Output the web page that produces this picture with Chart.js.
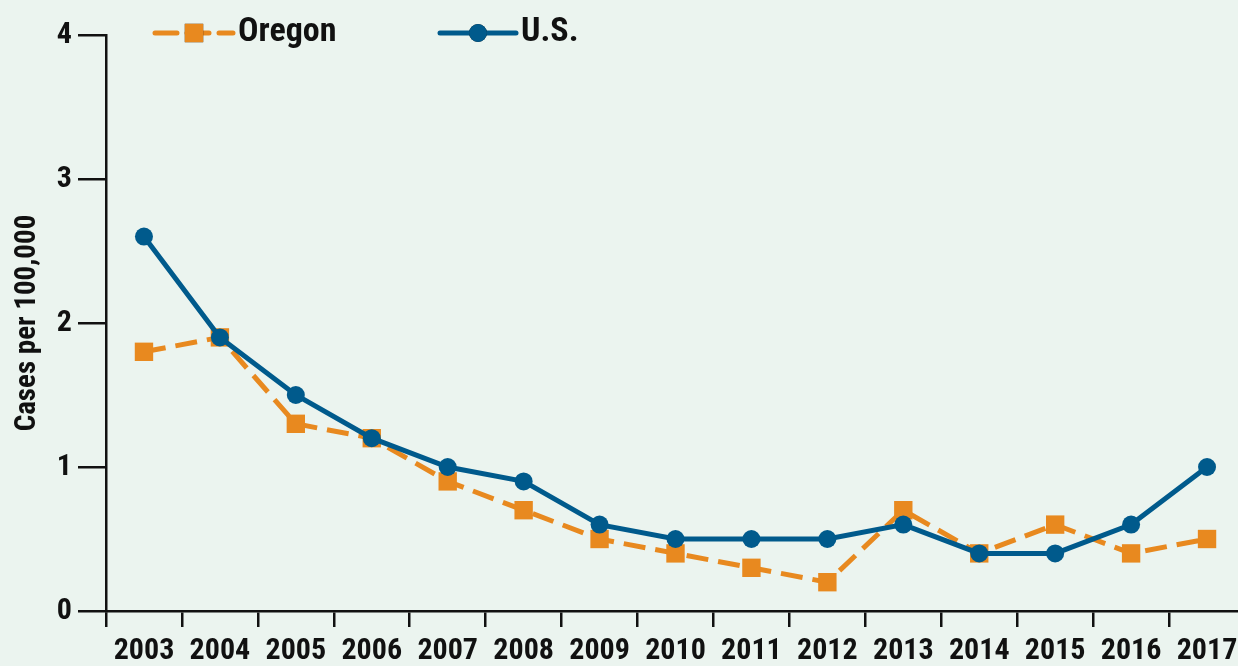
<!DOCTYPE html>
<html>
<head>
<meta charset="utf-8">
<script src="https://cdn.jsdelivr.net/npm/chart.js@4"></script>
<style>
  html, body { margin: 0; padding: 0; background: #EBF4EF; overflow: hidden; }
  #wrap { width: 1258px; height: 666px; }
</style>
</head>
<body>
<div id="wrap"><canvas id="myChart" width="1258" height="666"></canvas></div>
<script>
const years = ['2003','2004','2005','2006','2007','2008','2009','2010','2011','2012','2013','2014','2015','2016','2017']
const oregon = [1.8, 1.9, 1.3, 1.2, 0.9, 0.7, 0.5, 0.4, 0.3, 0.2, 0.7, 0.4, 0.6, 0.4, 0.5]
const us = [2.6, 1.9, 1.5, 1.2, 1.0, 0.9, 0.6, 0.5, 0.5, 0.5, 0.6, 0.4, 0.4, 0.6, 1.0]
const yTicks = [0, 1, 2, 3, 4]

const orange = '#E8891F'
const blue = '#005A8C'
const fontFamily = '"Liberation Sans Narrow", "Roboto Condensed", Arial, sans-serif'

// legend drawn by hand so it can sit inside the top of the plot
const topLegend = {
  id: 'topLegend',
  afterDraw(chart) {
    const ctx = chart.ctx
    const items = [
      { ds: chart.data.datasets[0], x1: 155, x2: 233, tx: 238 },
      { ds: chart.data.datasets[1], x1: 440, x2: 516, tx: 521 }
    ]
    const y = 33
    ctx.save()
    items.forEach(it => {
      const ds = it.ds
      ctx.strokeStyle = ds.borderColor
      ctx.lineWidth = ds.borderWidth
      ctx.lineCap = 'round'
      ctx.setLineDash(ds.borderDash || [])
      ctx.beginPath()
      ctx.moveTo(it.x1, y)
      ctx.lineTo(it.x2, y)
      ctx.stroke()
      ctx.setLineDash([])
      Chart.helpers.drawPoint(ctx, {
        pointStyle: ds.pointStyle,
        radius: ds.pointRadius,
        borderWidth: 0
      }, (it.x1 + it.x2) / 2, y)
      ctx.fillStyle = ds.backgroundColor
      ctx.fill()
      ctx.fillStyle = '#111'
      ctx.font = 'bold 34px ' + fontFamily
      ctx.textBaseline = 'middle'
      ctx.fillText(ds.label, it.tx, y - 1)
    })
    ctx.restore()
  }
}

const chart = document.getElementById('myChart')
new Chart(chart, {
  type: 'line',
  data: {
    labels: years,
    datasets: [{
      label: 'Oregon',
      data: oregon,
      borderColor: orange,
      backgroundColor: orange,
      borderWidth: 5,
      borderDash: [22, 10],
      pointStyle: 'rect',
      pointRadius: 13,
      pointBorderWidth: 0,
      tension: 0,
      order: 2
    }, {
      label: 'U.S.',
      data: us,
      borderColor: blue,
      backgroundColor: blue,
      borderWidth: 5,
      pointStyle: 'circle',
      pointRadius: 9,
      pointBorderWidth: 0,
      tension: 0,
      order: 1
    }]
  },
  options: {
    responsive: false,
    animation: false,
    layout: { padding: { top: 35, right: 4, left: 0, bottom: 0 } },
    plugins: {
      legend: { display: false },
      tooltip: { enabled: false }
    },
    scales: {
      x: {
        offset: true,
        grid: {
          offset: true,
          drawOnChartArea: false,
          color: '#111',
          lineWidth: 2.5,
          tickLength: 16
        },
        border: { color: '#111', width: 2.5 },
        ticks: {
          color: '#111',
          font: { family: fontFamily, size: 30, weight: 'bold' },
          padding: 6,
          maxRotation: 0,
          autoSkip: false
        },
        afterFit: s => { s.height = 55 }
      },
      y: {
        min: 0,
        max: 4,
        afterBuildTicks: s => { s.ticks = yTicks.map(v => ({ value: v })) },
        grid: {
          drawOnChartArea: false,
          color: '#111',
          lineWidth: 2.5,
          tickLength: 28
        },
        border: { color: '#111', width: 2.5 },
        ticks: {
          color: '#111',
          font: { family: fontFamily, size: 30, weight: 'bold' },
          padding: 6
        },
        title: {
          display: true,
          text: 'Cases per 100,000',
          color: '#111',
          font: { family: fontFamily, size: 29, weight: 'bold' },
          padding: { top: 10, bottom: 0 }
        },
        afterFit: s => { s.width = 106 }
      }
    }
  },
  plugins: [topLegend]
})
</script>
</body>
</html>
